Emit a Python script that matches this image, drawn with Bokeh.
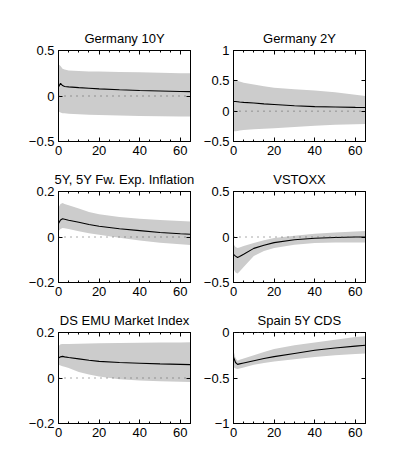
from bokeh.plotting import figure
from bokeh.layouts import column, row
from bokeh.models import Range1d, FixedTicker, LinearAxis, Span
from bokeh.embed import file_html
from bokeh.resources import INLINE

FONT = "Liberation Sans"

# horizons
H = [0, 1, 2, 3, 5, 10, 15, 20, 30, 40, 50, 60, 65]

titles = ["Germany 10Y", "Germany 2Y", "5Y, 5Y Fw. Exp. Inflation",
          "VSTOXX", "DS EMU Market Index", "Spain 5Y CDS"]

de10_mean = [0.10, 0.14, 0.115, 0.105, 0.10, 0.092, 0.085, 0.078, 0.068, 0.060, 0.055, 0.050, 0.048]
de10_hi = [0.35, 0.33, 0.30, 0.29, 0.28, 0.275, 0.27, 0.27, 0.265, 0.26, 0.255, 0.25, 0.25]
de10_lo = [-0.17, -0.18, -0.19, -0.19, -0.195, -0.20, -0.205, -0.21, -0.215, -0.22, -0.222, -0.225, -0.225]

de2_mean = [0.16, 0.16, 0.155, 0.15, 0.145, 0.135, 0.12, 0.11, 0.09, 0.075, 0.068, 0.062, 0.06]
de2_hi = [0.52, 0.51, 0.50, 0.49, 0.47, 0.44, 0.41, 0.385, 0.36, 0.34, 0.31, 0.27, 0.25]
de2_lo = [-0.33, -0.33, -0.325, -0.32, -0.31, -0.30, -0.29, -0.28, -0.26, -0.24, -0.225, -0.215, -0.21]

inf_mean = [0.06, 0.075, 0.08, 0.078, 0.074, 0.065, 0.055, 0.047, 0.036, 0.028, 0.02, 0.014, 0.012]
inf_hi = [0.13, 0.145, 0.15, 0.145, 0.14, 0.125, 0.11, 0.10, 0.088, 0.08, 0.075, 0.07, 0.068]
inf_lo = [0.025, 0.035, 0.04, 0.038, 0.035, 0.025, 0.017, 0.01, -0.003, -0.015, -0.025, -0.032, -0.035]

vs_mean = [-0.19, -0.21, -0.225, -0.215, -0.19, -0.125, -0.09, -0.062, -0.03, -0.013, -0.005, 0.0, 0.0]
vs_hi = [-0.08, -0.11, -0.12, -0.115, -0.10, -0.065, -0.035, -0.012, 0.015, 0.035, 0.05, 0.06, 0.065]
vs_lo = [-0.35, -0.39, -0.40, -0.38, -0.33, -0.21, -0.155, -0.12, -0.085, -0.065, -0.06, -0.06, -0.06]

ds_mean = [0.088, 0.093, 0.095, 0.093, 0.09, 0.084, 0.078, 0.073, 0.068, 0.065, 0.062, 0.06, 0.059]
ds_hi = [0.14, 0.148, 0.15, 0.15, 0.15, 0.151, 0.152, 0.153, 0.154, 0.155, 0.156, 0.156, 0.157]
ds_lo = [0.058, 0.055, 0.052, 0.05, 0.044, 0.026, 0.015, 0.007, -0.005, -0.011, -0.014, -0.017, -0.018]

es_mean = [-0.27, -0.33, -0.35, -0.345, -0.335, -0.31, -0.285, -0.265, -0.23, -0.195, -0.17, -0.15, -0.14]
es_hi = [-0.20, -0.28, -0.31, -0.30, -0.285, -0.25, -0.215, -0.18, -0.14, -0.11, -0.08, -0.05, -0.04]
es_lo = [-0.38, -0.395, -0.40, -0.395, -0.385, -0.355, -0.335, -0.32, -0.295, -0.27, -0.25, -0.235, -0.23]

x_ticks = [0, 20, 40, 60]
x_minor = [5, 10, 15, 25, 30, 35, 45, 50, 55, 65]

y_lims = [(-0.5, 0.5), (-0.5, 1.0), (-0.2, 0.2), (-0.5, 0.5), (-0.2, 0.2), (-1.0, 0.0)]
y_ticks = [[-0.5, 0, 0.5], [-0.5, 0, 0.5, 1], [-0.2, 0, 0.2],
           [-0.5, 0, 0.5], [-0.2, 0, 0.2], [-1, -0.5, 0]]
y_labels = [["\u22120.5", "0", "0.5"], ["\u22120.5", "0", "0.5", "1"], ["\u22120.2", "0", "0.2"],
            ["\u22120.5", "0", "0.5"], ["\u22120.2", "0", "0.2"], ["\u22121", "\u22120.5", "0"]]

series = [(de10_mean, de10_lo, de10_hi), (de2_mean, de2_lo, de2_hi),
          (inf_mean, inf_lo, inf_hi), (vs_mean, vs_lo, vs_hi),
          (ds_mean, ds_lo, ds_hi), (es_mean, es_lo, es_hi)]


def style_axis(ax, ticks, minor, labels, show_labels):
    ax.ticker = FixedTicker(ticks=ticks, minor_ticks=minor)
    ax.axis_line_color = "black"
    ax.axis_line_width = 1
    ax.major_tick_in = 4
    ax.major_tick_out = 0
    ax.minor_tick_in = 2
    ax.minor_tick_out = 0
    ax.major_tick_line_color = "black"
    ax.minor_tick_line_color = "black"
    if show_labels:
        ax.major_label_overrides = {t: l for t, l in zip(ticks, labels)}
        ax.major_label_text_font = FONT
        ax.major_label_text_font_size = "13px"
        ax.major_label_text_color = "black"
        ax.major_label_standoff = 4
    else:
        ax.major_label_text_font_size = "0px"
        ax.major_label_text_color = None
        ax.major_label_text_alpha = 0
        ax.major_label_standoff = 0


def make_panel(i, left, right, top):
    m, lo, hi = series[i]
    p = figure(frame_width=132, frame_height=91,
               x_range=Range1d(0, 65), y_range=Range1d(*y_lims[i]),
               output_backend="svg", toolbar_location=None,
               min_border_left=left, min_border_right=right,
               min_border_top=top, min_border_bottom=20,
               background_fill_color="white", border_fill_color="white")
    p.title.text = titles[i]
    p.title.text_font = FONT
    p.title.text_font_size = "13px"
    p.title.text_font_style = "normal"
    p.title.text_color = "black"
    p.title.align = "center"
    p.title.standoff = 9
    p.xgrid.visible = False
    p.ygrid.visible = False
    p.outline_line_color = "black"
    p.outline_line_width = 1

    p.varea(x=H, y1=lo, y2=hi, fill_color="#cccccc", fill_alpha=1.0)
    p.add_layout(Span(location=0, dimension="width", line_color="#555555",
                      line_width=1, line_dash="1 5"))
    p.line(x=H, y=m, line_color="black", line_width=1.1)

    style_axis(p.xaxis[0], x_ticks, x_minor, [str(t) for t in x_ticks], True)
    style_axis(p.yaxis[0], y_ticks[i], [], y_labels[i], True)
    top_ax = LinearAxis()
    style_axis(top_ax, x_ticks, x_minor, None, False)
    p.add_layout(top_ax, "above")
    right_ax = LinearAxis()
    style_axis(right_ax, y_ticks[i], [], None, False)
    p.add_layout(right_ax, "right")
    return p


panels = []
for i in range(6):
    left_col = (i % 2 == 0)
    top = 50 if i < 2 else 30
    if left_col:
        panels.append(make_panel(i, 58, 10, top))
    else:
        panels.append(make_panel(i, 32, 16, top))

layout = column(row(panels[0], panels[1]), row(panels[2], panels[3]), row(panels[4], panels[5]))

open("out.html", "w").write(file_html(layout, INLINE))
